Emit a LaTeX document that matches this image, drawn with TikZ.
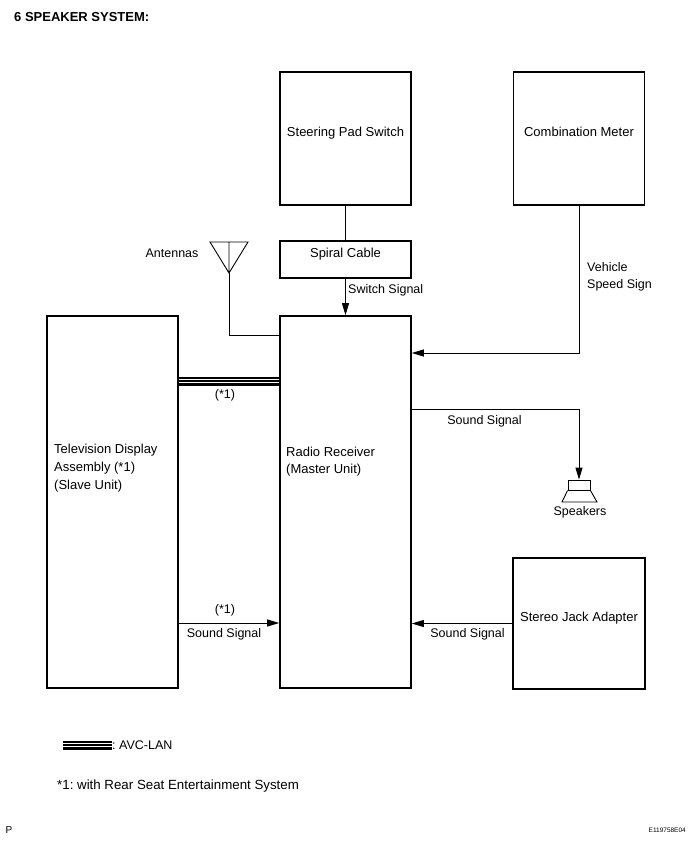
\documentclass[tikz,border=0pt]{standalone}
\usepackage{fontspec}
\setmainfont{Liberation Sans}
\usetikzlibrary{arrows.meta}
\begin{document}
\frenchspacing
\begin{tikzpicture}[x=1pt, y=-1pt, font=\fontsize{13}{17}\selectfont, line cap=butt, >={Triangle[length=12pt,width=7pt]},
	unit/.style={draw, line width=1.6pt, minimum width=131pt, inner sep=0pt, text depth=13pt},
	wire/.style={line width=0.9pt},
	avc/.style={draw=white, line width=3.4pt, preaction={draw=black, line width=9pt}, postaction={draw=black, line width=1.3pt}},
	lbl/.style={font=\fontsize{12.5}{17}\selectfont, inner sep=0pt}]
	\useasboundingbox (0,0) rectangle (691,844);
	% Kopf
	\node[anchor=west, inner sep=0pt, font=\fontsize{13}{15}\selectfont\bfseries] (title) at (14,17) {6 SPEAKER SYSTEM:};
	% Geraete
	\node[unit, minimum height=133pt] (steer) at (345.5,138.5) {Steering Pad Switch};
	\node[unit, minimum height=133pt] (combo) at (579,138.5) {Combination Meter};
	\node[unit, minimum height=37pt] (spiral) at (345.5,259.5) {Spiral Cable};
	\node[unit, minimum height=372pt] (radio) at (345.5,502) {};
	\node[unit, minimum height=372pt] (tv) at (112.5,502) {};
	\node[unit, minimum width=132pt, minimum height=131pt] (stereo) at (579,623.5) {Stereo Jack Adapter};
	\node[anchor=west, align=left, inner sep=0pt] (radiotxt) at (286,462) {Radio Receiver\\(Master Unit)};
	\node[anchor=west, align=left, inner sep=0pt, font=\fontsize{13}{18}\selectfont] (tvtxt) at (54,468) {Television Display\\Assembly (*1)\\(Slave Unit)};
	% Hilfspunkte
	\coordinate (antY) at (0,335);
	\coordinate (vssY) at (0,353);
	\coordinate (lanY) at (0,381);
	\coordinate (spkY) at (0,409);
	\coordinate (sndY) at (0,623);
	% Antenne
	\draw[wire, line join=miter] (210,242) -- (248,242) -- (229,273) -- cycle (229,242) -- (229,273) coordinate (ant);
	\node[lbl] (antlbl) at (172,253) {Antennas};
	\draw[wire] (ant) |- (radio.west |- antY);
	% Lautsprecher
	\node[draw, wire, minimum width=22pt, minimum height=10pt, inner sep=0pt] (spk) at (579,485) {};
	\draw[wire, line join=miter] (spk.south west) -- (562,502) -- (597,502) -- (spk.south east);
	\node[lbl] (spkname) at (580,512) {Speakers};
	% Verbindungen
	\draw[wire] (steer.south) -- (spiral.north);
	\draw[wire,->] (spiral.south) -- (radio.north);
	\node[lbl, anchor=west] (swlbl) at (348,290) {Switch Signal};
	\draw[wire,->] (combo.south) |- (radio.east |- vssY);
	\node[lbl, anchor=west, align=left] (vsslbl) at (587,276.5) {Vehicle\\Speed Sign};
	\draw[avc] (tv.east |- lanY) -- (radio.west |- lanY);
	\node[lbl] (lan1) at (225,395) {(*1)};
	\draw[wire,->] (radio.east |- spkY) -| (spk.north);
	\node[lbl] (spklbl) at (484.5,421) {Sound Signal};
	\draw[wire,->] (tv.east |- sndY) -- (radio.west |- sndY);
	\node[lbl] (tv1) at (225,610) {(*1)};
	\node[lbl] (tvsnd) at (224,634) {Sound Signal};
	\draw[wire,->] (stereo.west) -- (radio.east |- stereo.west);
	\node[lbl] (stsnd) at (467.5,634) {Sound Signal};
	% Legende
	\draw[avc] (63,745) coordinate (legA) -- (112,745) coordinate (legB);
	\node[lbl, anchor=west] (legtxt) at (legB) {: AVC-LAN};
	\node[anchor=west, inner sep=0pt, font=\fontsize{13.3}{15}\selectfont] (note) at (57,786) {*1: with Rear Seat Entertainment System};
	\node[inner sep=0pt, font=\fontsize{10}{10}\selectfont] (pmark) at (9,830) {P};
	\node[anchor=east, inner sep=0pt, font=\fontsize{6.5}{7}\selectfont] (code) at (686,830) {E119758E04};
\end{tikzpicture}
\end{document}
